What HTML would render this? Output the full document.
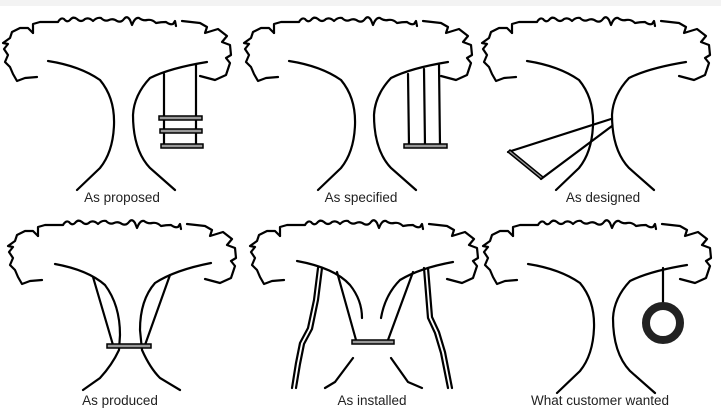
<!DOCTYPE html>
<html><head><meta charset="utf-8"><style>
html,body{margin:0;padding:0;background:#fff;}
svg{display:block}
text{font-family:"Liberation Sans",sans-serif;font-size:13.5px;fill:#222;text-anchor:middle}
</style></head><body>
<svg width="721" height="413" viewBox="0 0 721 413" xmlns="http://www.w3.org/2000/svg">
<rect x="0" y="0" width="721" height="6" fill="#f3f3f3"/>
<defs>
<g id="can" fill="none" stroke="#000" stroke-width="2.2" stroke-linejoin="round" stroke-linecap="round">
<path d="M33,33 L33,24 L40,22 L58,22 Q61,17 64,19 Q67,23 70,20 Q73,16 77,19 Q81,23 85,19 Q89,17 93,21 Q97,17 101,18 Q105,22 109,20 Q113,18 117,21 Q121,23 124,19 Q127,15 130,20 L132,25 Q135,17 139,18 Q143,21 147,20 Q152,19 156,23 Q161,22 166,22 Q170,25 173,24 L175,21 L176,26"/>
<path d="M182,21 L200,23 L207,27 L205,33 L218,29 L227,36 L222,42 L230,45 L231,55 L226,58 L230,63 L226,75 L215,80 L200,76"/>
<path d="M37,77 L25,78 L17,81 L13,74 L10,67 L5,62 L8,55 L4,49 L8,44 L3,43 L10,38 L12,32 L20,28 L28,28 L33,33"/>
</g>
<g id="trunk" fill="none" stroke="#000" stroke-width="2.2" stroke-linecap="round">
<path d="M48,61 Q80,66 100,80 Q115,98 114,125 Q113,152 100,168 L77,190"/>
<path d="M207,62 Q170,68 150,78 Q134,95 133,115 Q133,150 150,168 L175,190"/>
</g>
</defs>
<g fill="none" stroke="#000" stroke-width="2.2" stroke-linecap="round">
<use href="#can"/><use href="#trunk"/>
<line x1="164" y1="74" x2="164" y2="147"/><line x1="196" y1="64" x2="196" y2="147"/>
<g stroke-width="1.5" fill="#999"><rect x="159" y="116" width="43" height="4"/><rect x="160" y="129" width="42" height="4"/><rect x="161" y="144" width="42" height="4"/></g>
<use href="#can" x="241"/><use href="#trunk" x="241"/>
<line x1="408" y1="74" x2="409" y2="146"/><line x1="424" y1="69" x2="425" y2="146"/><line x1="439" y1="65" x2="440" y2="146"/>
<rect x="404" y="144" width="43" height="4" stroke-width="1.5" fill="#999"/>
<use href="#can" x="479"/><use href="#trunk" x="479"/>
<line x1="508" y1="152" x2="611" y2="119"/><line x1="541" y1="179" x2="612" y2="126"/>
<path d="M508,152 L541,179 L543,177 L510,150 Z" stroke-width="1.5" fill="#999"/>
<use href="#can" x="5" y="203"/>
<path d="M55,264 Q88,270 105,285 Q120,305 120,335 L119,350 Q112,365 100,378 L83,390"/>
<path d="M211,263 Q175,270 155,283 Q140,300 140,330 L142,350 Q150,368 160,378 L180,390"/>
<line x1="93" y1="277" x2="113" y2="345"/><line x1="170" y1="275" x2="145" y2="345"/>
<rect x="107" y="344" width="44" height="4" stroke-width="1.5" fill="#999"/>
<use href="#can" x="247" y="203"/>
<path d="M297,261 Q335,268 350,285 Q362,300 362,318"/>
<path d="M453,262 Q420,268 400,280 Q385,295 381,318"/>
<line x1="337" y1="272" x2="356" y2="340"/><line x1="413" y1="272" x2="388" y2="340"/>
<rect x="352" y="340" width="42" height="4" stroke-width="1.5" fill="#999"/>
<path d="M353,358 L335,382 L325,388"/><path d="M391,358 L408,382 L422,388"/>
<path d="M318,268 L314,300 L308,328 L300,343 L296,363 L292,388"/>
<path d="M322,268 L318,300 L312,329 L304,344 L300,364 L296,388"/>
<path d="M424,268 L428,318 L435,333 L441,353 L448,388"/>
<path d="M428,268 L432,317 L439,332 L445,352 L452,388"/>
<use href="#can" x="480" y="203"/><use href="#trunk" x="480" y="203"/>
<line x1="663" y1="268" x2="663" y2="304"/>
<circle cx="663" cy="323" r="17" stroke-width="8" stroke="#222"/>
</g>
<text x="122" y="202">As proposed</text>
<text x="361" y="202">As specified</text>
<text x="603" y="202">As designed</text>
<text x="120" y="405">As produced</text>
<text x="372" y="405">As installed</text>
<text x="600" y="405">What customer wanted</text>
</svg>
</body></html>
